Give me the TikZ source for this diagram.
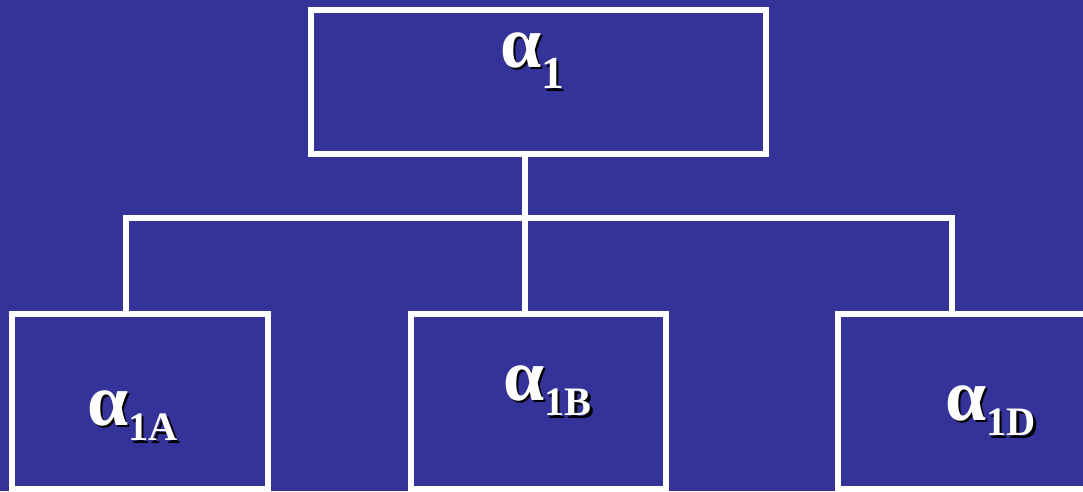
\documentclass[tikz,border=0pt]{standalone}
\usepackage{fontspec}
\setmainfont{Liberation Serif}
\usetikzlibrary{calc}
\definecolor{slideblue}{RGB}{51,51,153}
\newcommand{\shtext}[1]{\makebox[0pt][l]{\hspace{1.3pt}\raisebox{-1.3pt}{\color{black}#1}}#1}
\newcommand{\alphasub}[3]{\fontsize{42}{42}\selectfont\shtext{α}\raisebox{-#2}{\fontsize{#1}{#1}\selectfont\shtext{#3}}}

\begin{document}
\begin{tikzpicture}[x=0.02cm,y=-0.02cm,
  box/.style={draw=white,line width=0.12cm,minimum width=5.12cm,minimum height=3.5cm,inner sep=0pt},
  link/.style={draw=white,line width=0.12cm},
  lbl/.style={anchor=base west,inner sep=0pt,text=white,font=\bfseries}]
  %%%%% START %%%%%

  \useasboundingbox (0,0) rectangle (1083,491);
  \fill[slideblue] (0,0) rectangle (1083,491);

  \node[box,minimum width=9.1cm,minimum height=2.88cm] (top) at (538.5,82) {};
  \node[box] (a) at (140,401.5) {};
  \node[box] (b) at (538.5,401.5) {};
  \node[box] (d) at (965.5,401.5) {};

  \coordinate (fork) at (524,218);
  \draw[link] ([xshift=-0.28cm]top.south) -- ([xshift=-0.28cm]b.north);
  \draw[link] ([xshift=-0.28cm]a.north) |- (fork) -| ([xshift=-0.28cm]d.north);

  \node[lbl] (top-lbl) at (500,67) {\alphasub{26}{12.5pt}{1}};
  \node[lbl] (a-lbl) at (87,425) {\alphasub{23}{9pt}{1A}};
  \node[lbl] (b-lbl) at (503,400) {\alphasub{23}{9pt}{1B}};
  \node[lbl] (d-lbl) at (945,420) {\alphasub{23}{9pt}{1D}};

  %%%%% END %%%%%
\end{tikzpicture}
\end{document}
